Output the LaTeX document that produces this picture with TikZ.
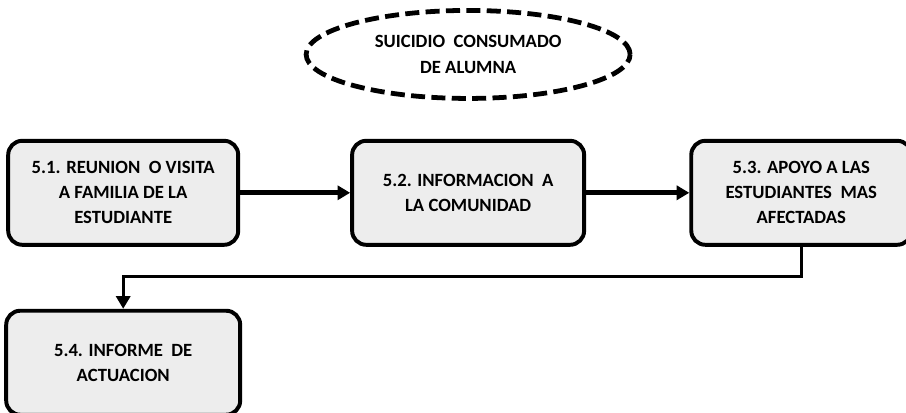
\documentclass[tikz,border=0pt]{standalone}
\usepackage{fontspec}
\setmainfont{Carlito}
\usetikzlibrary{positioning,arrows.meta,shapes.geometric}

\begin{document}
\begin{tikzpicture}[
    node distance=1.55cm and 2.7cm,
    >={Triangle[length=9pt,width=10pt]},
    box/.style={
      draw,
      line width=2.8pt,
      rounded corners=10pt,
      fill=black!7,
      align=center,
      font=\fontsize{13.3pt}{17.8pt}\selectfont\bfseries,
      minimum width=5.75cm,
      minimum height=2.6cm
    },
    event/.style={
      ellipse,
      draw,
      line width=3.4pt,
      dash pattern=on 10pt off 4.5pt,
      align=center,
      font=\fontsize{13.3pt}{19pt}\selectfont\bfseries,
      minimum width=8.1cm,
      minimum height=2.2cm
    }
  ]
    \useasboundingbox (0,0) rectangle (22.65,10.3);

    \node[box] (reunion) at (3.08,5.48) {5.1. REUNION\ \ O VISITA\\A FAMILIA DE LA\\ESTUDIANTE};
    \node[box, right=2.75cm of reunion, minimum width=5.8cm] (informacion) {5.2. INFORMACION\ \ A\\LA COMUNIDAD};
    \node[box, right=2.58cm of informacion, minimum width=5.5cm] (apoyo) {5.3. APOYO A LAS\\ESTUDIANTES\ \ MAS\\AFECTADAS};
    \node[box, below=of reunion, minimum width=5.85cm] (informe) {5.4. INFORME\ \ DE\\ACTUACION};
    \node[event, above=0.95cm of informacion] (suicidio) {SUICIDIO\ \ CONSUMADO\\DE ALUMNA};

    \draw[->, line width=3.6pt] (reunion) -- (informacion);
    \draw[->, line width=3.6pt] (informacion) -- (apoyo);
    \draw[->, line width=2.2pt] (apoyo.south) -- ++(0,-0.75) -| (informe.north);
  \end{tikzpicture}
\end{document}
